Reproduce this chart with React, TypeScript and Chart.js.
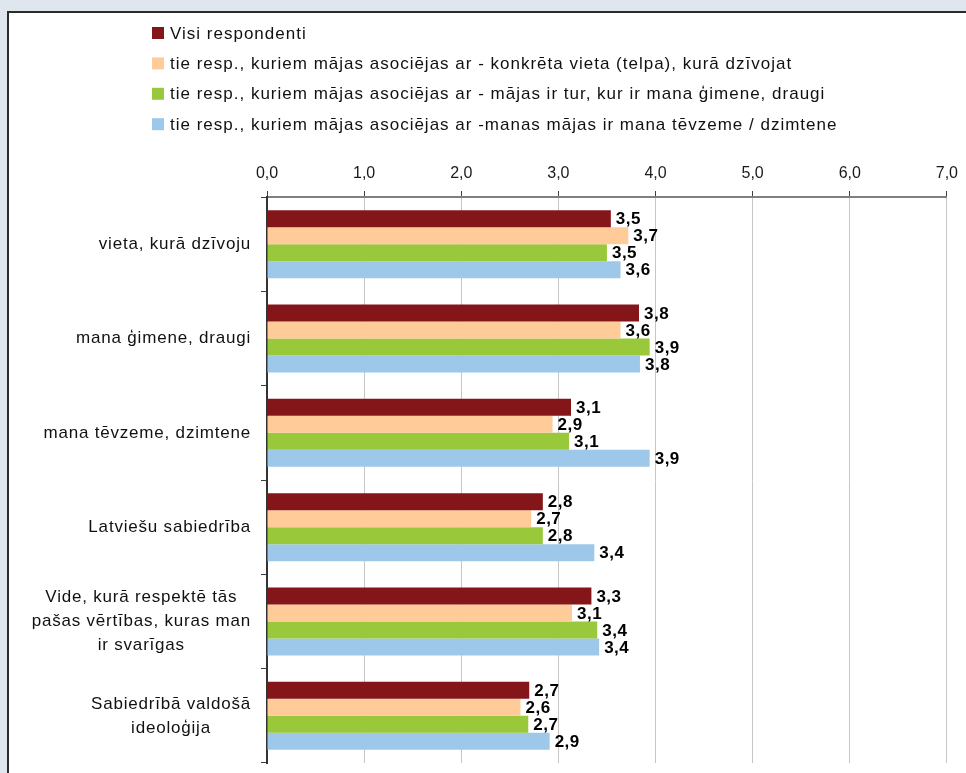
import React, { useEffect, useRef } from "react";
import { Chart, registerables } from "chart.js";

Chart.register(...registerables);

const categories: (string | string[])[] = [
  "vieta, kurā dzīvoju",
  "mana ģimene, draugi",
  "mana tēvzeme, dzimtene",
  "Latviešu sabiedrība",
  ["Vide, kurā respektē tās", "pašas vērtības, kuras man", "ir svarīgas"],
  ["Sabiedrībā valdošā", "ideoloģija"],
];

const seriesNames = [
  "Visi respondenti",
  "tie resp., kuriem mājas asociējas ar - konkrēta vieta (telpa), kurā dzīvojat",
  "tie resp., kuriem mājas asociējas ar - mājas ir tur, kur ir mana ģimene, draugi",
  "tie resp., kuriem mājas asociējas ar -manas mājas ir mana tēvzeme / dzimtene",
];

const visiRespondenti = [3.54, 3.83, 3.13, 2.84, 3.34, 2.7];
const konkretaVieta = [3.72, 3.64, 2.94, 2.72, 3.14, 2.61];
const gimeneDraugi = [3.5, 3.94, 3.11, 2.84, 3.4, 2.69];
const tevzemeDzimtene = [3.64, 3.84, 3.94, 3.37, 3.42, 2.91];

const xMin = 0;
const xMax = 7;
const xStep = 1;

const colors = ["#84161a", "#ffcc99", "#99c93b", "#9ec8ea"];

const FONT = '"Liberation Sans", Arial, Helvetica, sans-serif';

function fmt(v: number): string {
  return Number(v).toFixed(1).replace(".", ",");
}

const customLegend = {
  id: "customLegend",
  afterDraw(chart: any) {
    const ctx = chart.ctx as CanvasRenderingContext2D;
    ctx.save();
    ctx.font = `17px ${FONT}`;
    (ctx as any).letterSpacing = "1px";
    ctx.textBaseline = "middle";
    ctx.textAlign = "left";
    chart.data.datasets.forEach((ds: any, i: number) => {
      const y = 33 + i * 30.4;
      ctx.fillStyle = ds.backgroundColor;
      ctx.fillRect(152, y - 6, 12, 12);
      ctx.fillStyle = "#111";
      ctx.fillText(ds.label, 170, y + 1);
    });
    ctx.restore();
  },
};

const yLabels = {
  id: "yLabels",
  afterDraw(chart: any) {
    const ctx = chart.ctx as CanvasRenderingContext2D;
    const yScale = chart.scales.y;
    ctx.save();
    ctx.font = `17px ${FONT}`;
    (ctx as any).letterSpacing = "0.8px";
    ctx.textBaseline = "middle";
    ctx.textAlign = "center";
    ctx.fillStyle = "#111";
    const lineH = 24;
    const rightEdge = 251;
    (chart.data.labels as (string | string[])[]).forEach((lab, i) => {
      const lines = Array.isArray(lab) ? lab : [lab];
      const py = yScale.getPixelForTick(i);
      const maxW = Math.max(...lines.map((l) => ctx.measureText(l).width));
      const cx = rightEdge - maxW / 2;
      const startY = py - ((lines.length - 1) * lineH) / 2;
      lines.forEach((l, j) => ctx.fillText(l, cx, startY + j * lineH));
    });
    ctx.restore();
  },
};

const dataLabels = {
  id: "dataLabels",
  afterDatasetsDraw(chart: any) {
    const ctx = chart.ctx as CanvasRenderingContext2D;
    ctx.save();
    ctx.font = `bold 17px ${FONT}`;
    (ctx as any).letterSpacing = "0.5px";
    ctx.textBaseline = "middle";
    ctx.textAlign = "left";
    ctx.fillStyle = "#000";
    chart.data.datasets.forEach((ds: any, di: number) => {
      const meta = chart.getDatasetMeta(di);
      meta.data.forEach((el: any, i: number) => {
        ctx.fillText(fmt(ds.data[i]), el.x + 5, el.y + 1);
      });
    });
    ctx.restore();
  },
};

export default function App() {
  const canvasRef = useRef<HTMLCanvasElement | null>(null);

  useEffect(() => {
    if (!canvasRef.current) return;
    const seriesValues = [visiRespondenti, konkretaVieta, gimeneDraugi, tevzemeDzimtene];
    const chart = new Chart(canvasRef.current, {
      type: "bar",
      data: {
        labels: categories as any,
        datasets: seriesNames.map((name, i) => ({
          label: name,
          data: seriesValues[i],
          backgroundColor: colors[i],
          borderWidth: 0,
          barPercentage: 1,
          categoryPercentage: 0.72,
        })),
      },
      options: {
        indexAxis: "y",
        responsive: false,
        animation: false,
        events: [],
        layout: { padding: { top: 157, right: 19, bottom: 10, left: 0 } },
        plugins: {
          legend: { display: false },
          tooltip: { enabled: false },
        },
        scales: {
          x: {
            position: "top",
            min: xMin,
            max: xMax,
            ticks: {
              stepSize: xStep,
              callback: (v: any) => fmt(Number(v)),
              font: { family: FONT, size: 16 },
              color: "#1a1a1a",
              padding: 8,
            },
            grid: {
              color: "#c6c6c6",
              lineWidth: 1,
              tickLength: 6,
              tickColor: "#404040",
              drawTicks: true,
            },
            border: { color: "#7f7f7f", width: 2 },
            afterFit: (s: any) => {
              s.height = 40;
            },
          },
          y: {
            ticks: { display: false },
            grid: {
              drawOnChartArea: false,
              tickLength: 6,
              tickColor: "#404040",
              offset: true,
            },
            border: { color: "#333333", width: 2 },
            afterFit: (s: any) => {
              s.width = 267;
            },
          },
        },
      } as any,
      plugins: [customLegend, yLabels, dataLabels],
    });
    return () => chart.destroy();
  }, []);

  return (
    <div
      style={{
        position: "absolute",
        left: 0,
        top: 0,
        width: 966,
        height: 773,
        background: "#dfe6ee",
        overflow: "hidden",
      }}
    >
      <div
        style={{
          position: "absolute",
          left: 7,
          top: 11,
          width: 1000,
          height: 800,
          background: "#ffffff",
          borderLeft: "2px solid #2b2b2b",
          borderTop: "2px solid #2b2b2b",
        }}
      />
      <canvas
        ref={canvasRef}
        width={966}
        height={773}
        style={{ position: "absolute", left: 0, top: 0, display: "block" }}
      />
    </div>
  );
}
